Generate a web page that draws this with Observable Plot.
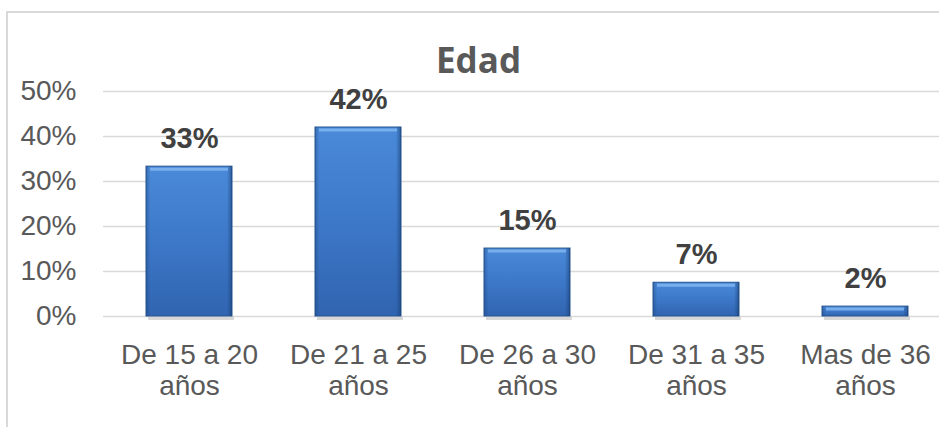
<!DOCTYPE html>
<html>
<head>
<meta charset="utf-8">
<script src="https://cdn.jsdelivr.net/npm/d3@7"></script>
<script src="https://cdn.jsdelivr.net/npm/@observablehq/plot@0.6"></script>
<style>
  html, body { margin: 0; padding: 0; background: #fff; }
  #wrap { position: relative; width: 939px; height: 427px; overflow: hidden; }
  #border { position: absolute; left: 6px; top: 11px; width: 1000px; height: 1000px;
            border-left: 2px solid #d9d9d9; border-top: 2px solid #d9d9d9; }
  #chart { position: absolute; left: 0; top: 0; }
</style>
</head>
<body>
<div id="wrap"><div id="border"></div><div id="chart"></div></div>
<script>
const title = "Edad";
const categories = ["De 15 a 20 años", "De 21 a 25 años", "De 26 a 30 años", "De 31 a 35 años", "Mas de 36 años"];
const values = [0.333, 0.42, 0.151, 0.075, 0.022];
const valueLabels = ["33%", "42%", "15%", "7%", "2%"];
const yTicks = [0, 0.1, 0.2, 0.3, 0.4, 0.5];

const data = categories.map((c, i) => ({category: c, value: values[i], label: valueLabels[i]}));

const chart = Plot.plot({
  width: 939,
  height: 427,
  marginLeft: 103,
  marginRight: 0,
  marginTop: 91,
  marginBottom: 111,
  style: {fontFamily: "'Liberation Sans', Arial, sans-serif", color: "#595959", background: "transparent", overflow: "visible"},
  x: {domain: categories, range: [102, 951], paddingInner: 0.494, paddingOuter: 0.247, axis: null, label: null},
  y: {domain: [0, 0.5], range: [316, 91], axis: null, label: null},
  marks: [
    Plot.ruleY(yTicks, {stroke: "#d9d9d9", strokeWidth: 1.5}),
    Plot.axisY({ticks: yTicks, tickFormat: d3.format(".0%"), tickSize: 0, tickPadding: 27, fontSize: 28, anchor: "left", label: null}),
    Plot.axisX({tickSize: 0, tickPadding: 26, fontSize: 28, lineHeight: 1.1, label: null,
                tickFormat: d => d.replace(/ años$/, "\naños")}),
    // soft shadow under bars
    Plot.tickY(data, {x: "category", y: 0, stroke: "#c8c8c8", strokeWidth: 3, dy: 2, insetLeft: 2, insetRight: -2, strokeOpacity: 0.7}),
    Plot.barY(data, {x: "category", y: "value", fill: "url(#barGrad)", stroke: "#27548f", strokeWidth: 1}),
    Plot.barY(data, {x: "category", y: "value", fill: "url(#edgeGrad)"}),
    Plot.tickY(data, {x: "category", y: "value", stroke: "#7db2ee", strokeWidth: 3, dy: 2.5, insetLeft: 4, insetRight: 4, strokeOpacity: 0.9}),
    Plot.text(data, {x: "category", y: "value", text: "label", lineAnchor: "bottom", dy: -19,
                     fontSize: 29, fontWeight: "bold", fill: "#404040"}),
    Plot.text([title], {frameAnchor: "top", dx: -43, dy: -19, lineAnchor: "bottom",
                        fontSize: 35, fontWeight: "bold", fill: "#595959",
                        fontFamily: "'Open Sans', 'Noto Sans', sans-serif"})
  ]
});

const ns = "http://www.w3.org/2000/svg";
const svg = chart.tagName.toLowerCase() === "svg" ? chart : chart.querySelector("svg");
const defs = document.createElementNS(ns, "defs");
defs.innerHTML = `
  <linearGradient id="barGrad" x1="0" y1="0" x2="0" y2="1">
    <stop offset="0" stop-color="#4a8ad9"/>
    <stop offset="0.5" stop-color="#3d78c8"/>
    <stop offset="1" stop-color="#3064b0"/>
  </linearGradient>
  <linearGradient id="edgeGrad" x1="0" y1="0" x2="1" y2="0">
    <stop offset="0" stop-color="#1c467f" stop-opacity="0.45"/>
    <stop offset="0.05" stop-color="#1c467f" stop-opacity="0"/>
    <stop offset="0.94" stop-color="#1c467f" stop-opacity="0"/>
    <stop offset="1" stop-color="#163a6c" stop-opacity="0.6"/>
  </linearGradient>`;
svg.insertBefore(defs, svg.firstChild);
document.getElementById("chart").appendChild(chart);
</script>
</body>
</html>
